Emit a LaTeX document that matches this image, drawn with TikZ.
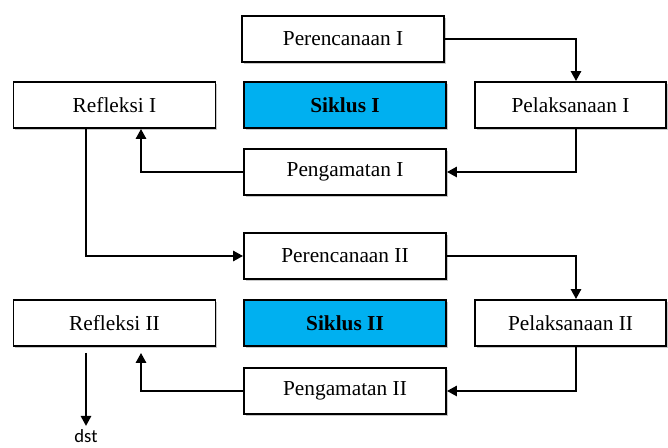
\documentclass[tikz,border=0pt]{standalone}
\usepackage{fontspec}
\setmainfont{Liberation Serif}
\newfontfamily\dstfont{Carlito}
\usetikzlibrary{arrows.meta,shadows}
\definecolor{siklus}{HTML}{00B0F0}
\begin{document}
\begin{tikzpicture}[x=0.75pt,y=-0.75pt,
  box/.style={draw=black,line width=1.3pt,fill=white,minimum height=34.5pt,
    inner sep=0pt,font=\fontsize{16}{19}\selectfont,
    drop shadow={shadow xshift=1.4pt,shadow yshift=-1.4pt,fill=black!35,opacity=0.6}},
  wbox/.style={box,minimum width=151.5pt},
  rbox/.style={box,minimum width=143pt},
  sbox/.style={box,minimum width=151.5pt,fill=siklus,font=\fontsize{16}{19}\selectfont\bfseries},
  arr/.style={line width=1.9pt,-{Triangle[length=7.5pt,width=7.5pt]}}]
\clip (0,0) rectangle (668,448);
\fill[white] (0,0) rectangle (668,448);
% cycle I
\node[wbox] (P1) at (343,39) {Perencanaan I};
\node[wbox] (R1) at (114.5,105) {Refleksi I};
\node[sbox] (S1) at (345,105) {Siklus I};
\node[rbox] (L1) at (570.5,105) {Pelaksanaan I};
\node[wbox] (G1) at (345,172) {Pengamatan I};
% cycle II
\node[wbox] (P2) at (345,256) {Perencanaan II};
\node[wbox] (R2) at (114.5,323) {Refleksi II};
\node[sbox] (S2) at (345,323) {Siklus II};
\node[rbox] (L2) at (570.5,323) {Pelaksanaan II};
\node[wbox] (G2) at (345,391) {Pengamatan II};
\node[font=\dstfont\fontsize{14}{16}\selectfont,anchor=south,inner sep=0pt] (dst) at (86,443) {dst};
% columns of the connectors
\coordinate (xr) at (576,0);
\coordinate (xl) at (141,0);
\coordinate (xd) at (86,0);
\coordinate (dend) at (86,426);
% connectors
\draw[arr] (P1.east) -| (L1.north -| xr);
\draw[arr] (L1.south -| xr) |- (G1.east);
\draw[arr] (G1.west) -| (R1.south -| xl);
\draw[arr] (R1.south -| xd) |- (P2.west);
\draw[arr] (P2.east) -| (L2.north -| xr);
\draw[arr] (L2.south -| xr) |- (G2.east);
\draw[arr,shorten >=4.5pt] (G2.west) -| (R2.south -| xl);
\draw[arr,shorten <=4.5pt] (R2.south -| xd) -- (dend);
\end{tikzpicture}
\end{document}
